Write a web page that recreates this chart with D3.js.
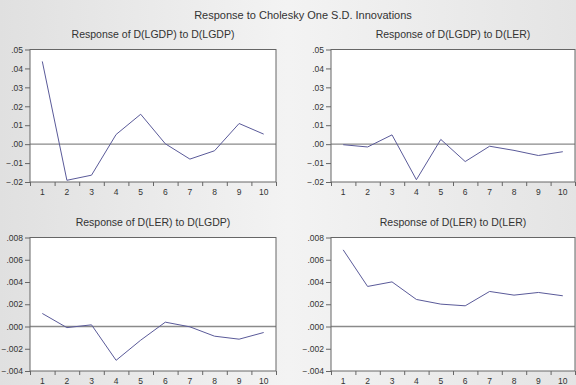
<!DOCTYPE html>
<html>
<head>
<meta charset="utf-8">
<script src="https://cdn.jsdelivr.net/npm/d3@7"></script>
<style>
  body { margin: 0; padding: 0; overflow: hidden; }
  text { font-family: "Liberation Sans", Arial, sans-serif; fill: #333; }
</style>
</head>
<body>
<svg></svg>
<script>
// periods 1..10
var periods = [1, 2, 3, 4, 5, 6, 7, 8, 9, 10];

// impulse responses
var lgdpToLgdp = [0.0437, -0.0191, -0.0164, 0.0051, 0.0158, 0.0002, -0.0079, -0.0035, 0.0109, 0.0053];
var lgdpToLer  = [-0.0003, -0.0015, 0.0049, -0.0188, 0.0025, -0.0092, -0.0011, -0.0033, -0.0060, -0.0040];
var lerToLgdp  = [0.00117, -0.0001, 0.00015, -0.00304, -0.00123, 0.00039, -0.00003, -0.00087, -0.00114, -0.00054];
var lerToLer   = [0.00689, 0.0036, 0.00401, 0.00243, 0.00201, 0.00186, 0.00315, 0.00282, 0.00306, 0.00276];

// tick values for the two kinds of y axis
var ticksTop    = [-0.02, -0.01, 0.00, 0.01, 0.02, 0.03, 0.04, 0.05];
var ticksBottom = [-0.004, -0.002, 0.000, 0.002, 0.004, 0.006, 0.008];

var mainTitle = "Response to Cholesky One S.D. Innovations";
var panelTitles = ["Response of D(LGDP) to D(LGDP)", "Response of D(LGDP) to D(LER)",
                   "Response of D(LER) to D(LGDP)", "Response of D(LER) to D(LER)"];

const width = 576;
const height = 385;

var svg = d3.select("svg")
    .attr("width", width)
    .attr("height", height);

// grey backdrop, a bit lighter in the middle
var grad = svg.append("defs").append("linearGradient")
    .attr("id", "bg")
    .attr("x1", "0%").attr("x2", "100%").attr("y1", "0%").attr("y2", "0%");
grad.append("stop").attr("offset", "0%").attr("stop-color", "#e0e0e0");
grad.append("stop").attr("offset", "50%").attr("stop-color", "#f3f3f3");
grad.append("stop").attr("offset", "100%").attr("stop-color", "#e4e4e4");

svg.append("rect")
    .attr("width", width)
    .attr("height", height)
    .attr("fill", "url(#bg)");

svg.append("text")
    .attr("x", 303)
    .attr("y", 19)
    .attr("text-anchor", "middle")
    .style("font-size", "11px")
    .text(mainTitle);

// strip the leading zero like EViews does: 0.05 -> .05
function fmt(digits) {
  var f = d3.format("." + digits + "f");
  return function(v) { return f(v).replace("0.", "."); };
}

var panels = [
  { x0: 30,  x1: 276, y0: 49.5,  y1: 182, values: lgdpToLgdp, ticks: ticksTop,    digits: 2, title: panelTitles[0] },
  { x0: 331, x1: 575, y0: 49.5,  y1: 182, values: lgdpToLer,  ticks: ticksTop,    digits: 2, title: panelTitles[1] },
  { x0: 30,  x1: 276, y0: 237.5, y1: 371, values: lerToLgdp,  ticks: ticksBottom, digits: 3, title: panelTitles[2] },
  { x0: 331, x1: 575, y0: 237.5, y1: 371, values: lerToLer,   ticks: ticksBottom, digits: 3, title: panelTitles[3] }
];

panels.forEach(function(p) {
  var x = d3.scaleLinear()
      .domain([0.5, 10.5])
      .range([p.x0, p.x1]);

  var y = d3.scaleLinear()
      .domain([p.ticks[0], p.ticks[p.ticks.length - 1]])
      .range([p.y1, p.y0]);

  var g = svg.append("g");

  g.append("text")
      .attr("x", (p.x0 + p.x1) / 2)
      .attr("y", p.y0 - 11.5)
      .attr("text-anchor", "middle")
      .style("font-size", "10.5px")
      .text(p.title);

  // plot area
  g.append("rect")
      .attr("x", p.x0)
      .attr("y", p.y0)
      .attr("width", p.x1 - p.x0)
      .attr("height", p.y1 - p.y0)
      .attr("fill", "white");

  // y axis, ticks pointing out
  var yAxis = g.append("g")
      .attr("transform", "translate(" + p.x0 + ",0)")
      .call(d3.axisLeft(y).tickValues(p.ticks).tickFormat(fmt(p.digits)).tickSize(5).tickPadding(2));
  yAxis.selectAll("text").style("font-size", "8.5px").style("font-family", "Liberation Sans, Arial, sans-serif").attr("fill", "#333");
  yAxis.selectAll("line").attr("stroke", "#666");
  yAxis.select(".domain").remove();

  // x axis: ticks between periods, labels on periods
  var xAxis = g.append("g")
      .attr("transform", "translate(0," + p.y1 + ")")
      .call(d3.axisBottom(x).tickValues(d3.range(0.5, 11, 1)).tickFormat("").tickSize(4));
  xAxis.selectAll("line").attr("stroke", "#666");
  xAxis.select(".domain").remove();

  g.append("g")
      .selectAll("text")
      .data(periods)
      .enter()
      .append("text")
      .attr("x", function(d) { return x(d); })
      .attr("y", p.y1 + 12.5)
      .attr("text-anchor", "middle")
      .style("font-size", "8.5px")
      .text(function(d) { return d; });

  // zero line
  g.append("line")
      .attr("x1", p.x0)
      .attr("x2", p.x1)
      .attr("y1", y(0))
      .attr("y2", y(0))
      .attr("stroke", "#8a8a8a")
      .attr("stroke-width", 1.3);

  // response line
  g.append("path")
      .datum(p.values)
      .attr("fill", "none")
      .attr("stroke", "#5a5a99")
      .attr("stroke-width", 1)
      .attr("d", d3.line()
        .x(function(d, i) { return x(periods[i]); })
        .y(function(d) { return y(d); })
      );

  // frame
  g.append("rect")
      .attr("x", p.x0)
      .attr("y", p.y0)
      .attr("width", p.x1 - p.x0)
      .attr("height", p.y1 - p.y0)
      .attr("fill", "none")
      .attr("stroke", "#666")
      .attr("stroke-width", 1);
});
</script>
</body>
</html>
